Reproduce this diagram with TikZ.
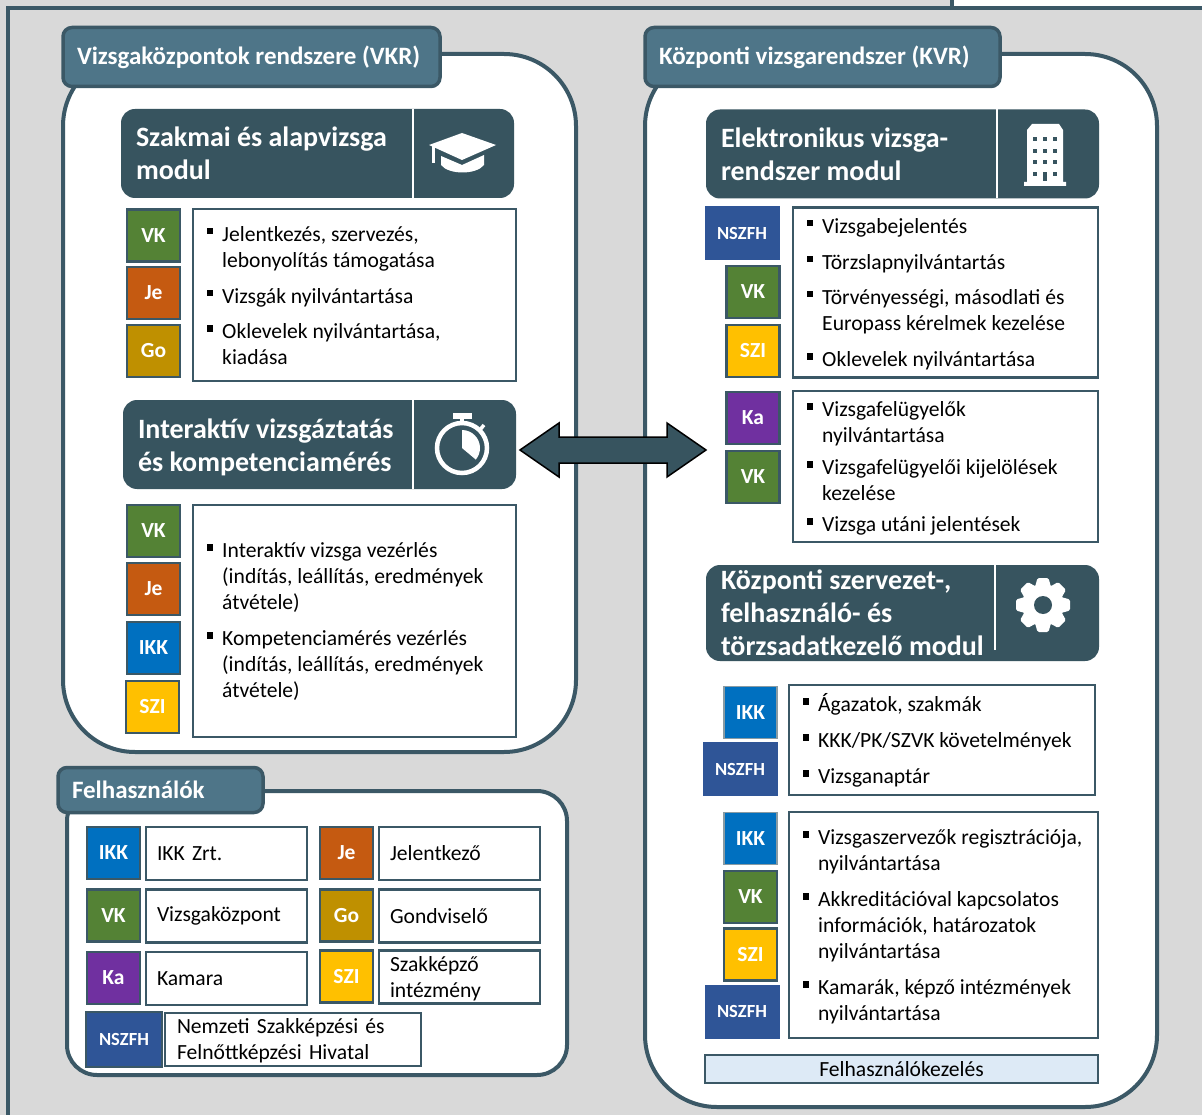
\documentclass[tikz,border=0pt]{standalone}
\usepackage{fontspec}
\setmainfont{Carlito}
\usetikzlibrary{calc}

\definecolor{greybg}{HTML}{D9D9D9}
\definecolor{linecol}{HTML}{3B5866}
\definecolor{headcol}{HTML}{37545F}
\definecolor{tabcol}{HTML}{4E7588}
\definecolor{barcol}{HTML}{DDEAF6}
\definecolor{vkcol}{HTML}{548235}
\definecolor{jecol}{HTML}{C55A11}
\definecolor{gocol}{HTML}{BF9000}
\definecolor{ikkcol}{HTML}{0070C0}
\definecolor{szicol}{HTML}{FFC000}
\definecolor{kacol}{HTML}{7030A0}
\definecolor{nszcol}{HTML}{2F5597}

\tikzset{
  panel/.style={draw=linecol, line width=4, fill=white},
  tab/.style={draw=linecol, line width=3.5, fill=tabcol, rounded corners=9, text=white,
    font=\bfseries\fontsize{25}{28}\selectfont, anchor=west, align=flush left, inner xsep=14,
    inner ysep=0, outer sep=0},
  modul/.style={fill=headcol, rounded corners=14, text=white, anchor=west, align=flush left,
    font=\bfseries\fontsize{28}{33}\selectfont, inner xsep=15, inner ysep=0, outer sep=0,
    minimum height=89, text width=363},
  badge/.style={draw=linecol, line width=2.5, fill=#1, text=white, inner sep=0, outer sep=0,
    font=\bfseries\fontsize{21.5}{24}\selectfont, minimum width=53, minimum height=52},
  nszbadge/.style={draw=white, line width=1, fill=nszcol, text=white, inner sep=0, outer sep=0,
    font=\bfseries\fontsize{18.5}{20}\selectfont, minimum width=76, minimum height=55},
  box/.style={draw=linecol, line width=2.2, fill=white, inner sep=0, outer sep=0, anchor=north west},
  item/.style={anchor=north west, inner sep=0, yshift=11, align=left,
    font=\fontsize{21.6}{26}\selectfont},
  legend/.style={box, align=left, inner xsep=11, inner ysep=0,
    font=\fontsize{21.6}{26}\selectfont},
  divider/.style={draw=white, line width=1.5},
}

% bullet with its text, y is the middle of the first line
\newcommand{\bitem}[3]{
  \node[item] (#1) at (#2) {\strut #3};
  \fill (#1.north west) ++(-15,5) rectangle ++(6,6.5);
}

\begin{document}
\begin{tikzpicture}[x=1pt,y=-1pt]
  \useasboundingbox (0,0) rectangle (1202,1115);

  % Background and frame
  \fill[greybg] (0,0) rectangle (1202,1115);
  \fill[white] (952,0) rectangle (1202,8);
  \draw[linecol, line width=3.5] (8,1115) -- (8,8) -- (1202,8);
  \draw[linecol, line width=3.5] (952,0) -- (952,8);

  % Panels
  \draw[panel, rounded corners=72] (63,54) rectangle (576,752);
  \draw[panel, rounded corners=72] (645,54) rectangle (1157,1107);
  \draw[panel, rounded corners=30] (67,791) rectangle (567,1075);

  % Tabs
  \node[tab, minimum height=59, text width=349, text height=18, text depth=2] (tabvkr) at (63,57) {Vizsgaközpontok rendszere (VKR)};
  \node[tab, minimum height=59, text width=327, text height=18, text depth=2] (tabkvr) at (645,57) {Központi vizsgarendszer (KVR)};
  \node[tab, minimum height=45, text width=177] (tabfel) at (58,790) {Felhasználók};

  % Module headers
  \node[modul] (modszak) at (121,153.5) {Szakmai és alapvizsga\\modul};
  \fill[headcol, rounded corners=14] (123,400) rectangle (516,489);
  \node[modul, fill=none] (modint) at (123,447) {Interaktív vizsgáztatás\\és kompetenciamérés};
  \node[modul] (modelek) at (706,154) {Elektronikus vizsga-\\rendszer modul};
  \node[modul, minimum height=96] (modkoz) at (706,613) {Központi szervezet-,\\felhasználó- és\\törzsadatkezelő modul};
  \draw[divider] (413,109) -- (413,198);
  \draw[divider] (413,400) -- (413,489);
  \draw[divider] (997,109) -- (997,198);
  \draw[divider] (995,565) -- (995,650);

  % Graduation cap
  \fill[white] (429,145) -- (462,133) -- (496,145) -- (462,160) -- cycle;
  \fill[white] (441,156) -- (462,165) -- (484,155) -- (484,165) .. controls (476,175) and (449,175) .. (441,165) -- cycle;
  \fill[white] (432,146) rectangle (434.5,163);

  % Building
  \fill[white] (1024,182) -- (1027,182) -- (1027,130) -- (1032,124) -- (1059,124) -- (1063,130) -- (1063,182) -- (1066,182) -- (1066,186) -- (1024,186) -- cycle;
  \foreach \wx in {1035,1045,1055}
    \foreach \wy in {139,151,162}
      \fill[headcol] (\wx-2,\wy-2) rectangle (\wx+2,\wy+2);
  \fill[headcol] (1033,172) rectangle (1037,176);
  \fill[headcol] (1053,172) rectangle (1057,176);
  \fill[headcol] (1043,172) rectangle (1047,181);

  % Stopwatch
  \draw[white, line width=4.5] (462,448) circle (25);
  \fill[white] (453,413) rectangle (472,418.5);
  \fill[white] (460,418) rectangle (464,424);
  \draw[white, line width=3.5] (479,431) -- (484,425);
  \fill[white] (462,448) -- (462,430) arc[start angle=-90, end angle=40, radius=18] -- cycle;

  % Gear
  \fill[white] (1043,605) circle (21);
  \foreach \a in {0,45,...,315}
    \fill[white, shift={(1043,605)}, rotate=\a, rounded corners=1.5] (-8,-18) -- (-5.5,-27) -- (5.5,-27) -- (8,-18) -- cycle;
  \fill[headcol] (1043,605) circle (9);

  % VKR, first block
  \node[badge=vkcol] (vka) at (153.5,235.5) {VK};
  \node[badge=jecol] (jea) at (153.5,293) {Je};
  \node[badge=gocol] (goa) at (153.5,351) {Go};
  \node[box, minimum width=323, minimum height=172] (boxa) at (193,209) {};
  \bitem{ita}{222,234}{Jelentkezés, szervezés,\\lebonyolítás támogatása}
  \bitem{itb}{222,296}{Vizsgák nyilvántartása}
  \bitem{itc}{222,331}{Oklevelek nyilvántartása,\\kiadása}

  % VKR, second block
  \node[badge=vkcol] (vkb) at (153.5,531) {VK};
  \node[badge=jecol] (jeb) at (153.5,589) {Je};
  \node[badge=ikkcol] (ikkb) at (153.5,648) {IKK};
  \node[badge=szicol] (szib) at (152.5,707) {SZI};
  \node[box, minimum width=323, minimum height=232] (boxb) at (193,505) {};
  \bitem{itd}{222,550}{Interaktív vizsga vezérlés\\(indítás, leállítás, eredmények\\átvétele)}
  \bitem{ite}{222,638}{Kompetenciamérés vezérlés\\(indítás, leállítás, eredmények\\átvétele)}

  % KVR, first block
  \node[nszbadge] (nszc) at (742,233.5) {NSZFH};
  \node[badge=vkcol] (vkc) at (753,292) {VK};
  \node[badge=szicol] (szic) at (753,351) {SZI};
  \node[box, minimum width=305, minimum height=170] (boxc) at (793,207.5) {};
  \bitem{itf}{822,226}{Vizsgabejelentés}
  \bitem{itg}{822,262}{Törzslapnyilvántartás}
  \bitem{ith}{822,297}{Törvényességi, másodlati és\\Europass kérelmek kezelése}
  \bitem{iti}{822,359}{Oklevelek nyilvántartása}

  % KVR, second block
  \node[badge=kacol] (kad) at (753,418) {Ka};
  \node[badge=vkcol] (vkd) at (753,477) {VK};
  \node[box, minimum width=305, minimum height=151] (boxd) at (793,391) {};
  \bitem{itj}{822,409}{Vizsgafelügyelők\\nyilvántartása}
  \bitem{itk}{822,467}{Vizsgafelügyelői kijelölések\\kezelése}
  \bitem{itl}{822,524}{Vizsga utáni jelentések}

  % KVR, third block
  \node[badge=ikkcol, draw=linecol!60, line width=1.5] (ikke) at (750.5,712.5) {IKK};
  \node[nszbadge] (nsze) at (740,769) {NSZFH};
  \node[box, minimum width=306, minimum height=110] (boxe) at (789,685) {};
  \bitem{itm}{818,704}{Ágazatok, szakmák}
  \bitem{itn}{818,740}{KKK/PK/SZVK követelmények}
  \bitem{ito}{818,776}{Vizsganaptár}

  % KVR, fourth block
  \node[badge=ikkcol, draw=linecol!60, line width=1.5] (ikkf) at (750.5,838.5) {IKK};
  \node[badge=vkcol] (vkf) at (750.5,897) {VK};
  \node[badge=szicol] (szif) at (750.5,954.5) {SZI};
  \node[nszbadge] (nszf) at (742,1011.5) {NSZFH};
  \node[box, minimum width=309, minimum height=226] (boxf) at (789,812) {};
  \bitem{itp}{818,837}{Vizsgaszervezők regisztrációja,\\nyilvántartása}
  \bitem{itq}{818,899}{Akkreditációval kapcsolatos\\információk, határozatok\\nyilvántartása}
  \bitem{itr}{818,987}{Kamarák, képző intézmények\\nyilvántartása}

  % Bottom bar
  \node[draw=linecol, line width=2, fill=barcol, minimum width=393, minimum height=28, inner sep=0,
    font=\fontsize{21.6}{24}\selectfont] (barfel) at (901.5,1069) {Felhasználókezelés};

  % Legend
  \node[badge=ikkcol] (legikk) at (113.5,853) {IKK};
  \node[legend, minimum height=53, text width=139] (legikkt) at (146,827) {IKK Zrt.};
  \node[badge=vkcol] (legvk) at (113.5,915.5) {VK};
  \node[legend, minimum height=53, text width=139] (legvkt) at (146,889.5) {\strut Vizsgaközpont};
  \node[badge=kacol] (legka) at (113.5,978) {Ka};
  \node[legend, minimum height=53, text width=139] (legkat) at (146,952) {Kamara};
  \node[badge=jecol] (legje) at (346.5,853) {Je};
  \node[legend, minimum height=53, text width=139] (legjet) at (379,827) {Jelentkező};
  \node[badge=gocol] (leggo) at (346.5,915.5) {Go};
  \node[legend, minimum height=53, text width=139] (leggot) at (379,889.5) {Gondviselő};
  \node[badge=szicol] (legszi) at (346.5,976.5) {SZI};
  \node[legend, minimum height=53, text width=139] (legszit) at (379,950.5) {\strut Szakképző\\intézmény};
  \node[nszbadge, draw=linecol, line width=2] (legnsz) at (124,1039) {NSZFH};
  \node[legend, minimum height=53, text width=232, inner xsep=12] (legnszt) at (165,1013) {\strut Nemzeti Szakképzési és\\Felnőttképzési Hivatal};

  % Double arrow between the two systems
  \coordinate (tipl) at (520,450);
  \coordinate (tipr) at (706,450);
  \draw[black, line width=1.5, fill=headcol, line join=miter] (tipl) -- (559,423) -- (559,437) -- (667,437) -- (667,423) -- (tipr) -- (667,477) -- (667,463) -- (559,463) -- (559,477) -- cycle;
\end{tikzpicture}
\end{document}
